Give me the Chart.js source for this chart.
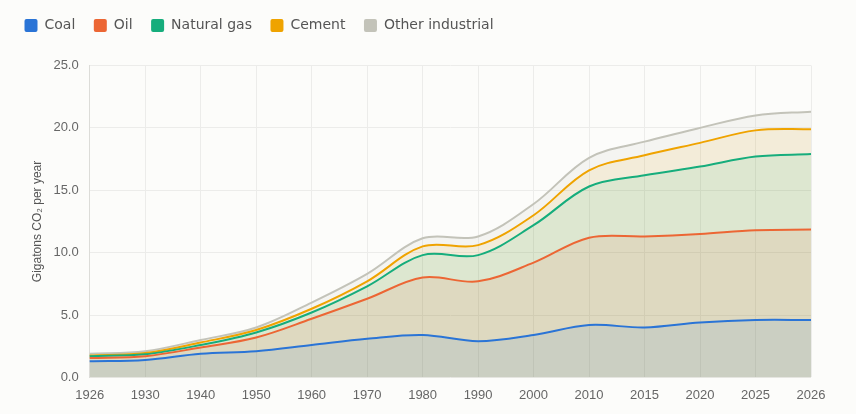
<!DOCTYPE html>
<html>
<head>
<meta charset="utf-8">
<script src="https://cdn.jsdelivr.net/npm/chart.js@4.4.1/dist/chart.umd.min.js"></script>
<style>
  html, body { margin: 0; padding: 0; background: #fcfcfa; }
  #wrap { width: 856px; height: 414px; }
</style>
</head>
<body>
<div id="wrap"><canvas id="c" width="856" height="414"></canvas></div>
<script>
const years = ["1926","1930","1940","1950","1960","1970","1980","1990","2000","2010","2015","2020","2025","2026"];
const coal = [1.3, 1.4, 1.9, 2.1, 2.6, 3.1, 3.4, 2.9, 3.4, 4.2, 4.0, 4.4, 4.6, 4.6];
const oil = [0.25, 0.3, 0.5, 1.1, 2.1, 3.2, 4.6, 4.8, 5.8, 7.0, 7.3, 7.1, 7.2, 7.25];
const naturalGas = [0.15, 0.15, 0.2, 0.4, 0.5, 1.0, 1.8, 2.1, 3.0, 4.1, 4.9, 5.4, 5.9, 6.05];
const cement = [0.05, 0.1, 0.2, 0.2, 0.3, 0.4, 0.7, 0.8, 0.8, 1.3, 1.6, 1.9, 2.1, 2.0];
const otherIndustrial = [0.15, 0.15, 0.2, 0.2, 0.5, 0.6, 0.65, 0.7, 0.9, 1.0, 1.1, 1.2, 1.2, 1.4];
const yTicks = [0, 5, 10, 15, 20, 25];

const seriesNames = ["Coal", "Oil", "Natural gas", "Cement", "Other industrial"];
const seriesData = [coal, oil, naturalGas, cement, otherIndustrial];
const lineColors = ["#2a74d6", "#ec6634", "#16ad7c", "#efa300", "#c3c3b9"];
const fillColors = ["rgba(42,116,214,0.10)", "rgba(236,102,52,0.10)", "rgba(22,173,124,0.10)", "rgba(239,163,0,0.10)", "rgba(190,190,178,0.12)"];

const FONT = "'Liberation Sans', Arial, sans-serif";
const LEGEND_FONT = "'DejaVu Sans', sans-serif";

const legendSpacer = {
  id: 'legendSpacer',
  beforeInit(chart) {
    const origFit = chart.legend.fit;
    chart.legend.fit = function () {
      origFit.bind(chart.legend)();
      this.height += 23;
    };
  }
};

new Chart(document.getElementById('c'), {
  type: 'line',
  data: {
    labels: years,
    datasets: seriesNames.map((name, i) => ({
      label: name,
      data: seriesData[i],
      borderColor: lineColors[i],
      backgroundColor: fillColors[i],
      borderWidth: 2,
      fill: 'origin',
      tension: 0.35,
      pointRadius: 0,
      pointHoverRadius: 0
    }))
  },
  options: {
    responsive: false,
    animation: false,
    layout: { padding: { left: 6, right: 45, top: 0, bottom: 1 } },
    plugins: {
      tooltip: { enabled: false },
      legend: {
        position: 'top',
        align: 'start',
        labels: {
          boxWidth: 13,
          boxHeight: 13,
          padding: 18.5,
          color: '#555',
          font: { family: LEGEND_FONT, size: 14 },
          generateLabels(chart) {
            return chart.data.datasets.map((ds, i) => ({
              text: ds.label,
              fillStyle: ds.borderColor,
              strokeStyle: ds.borderColor,
              lineWidth: 0,
              borderRadius: 2,
              fontColor: '#555',
              datasetIndex: i,
              hidden: false
            }));
          },
          useBorderRadius: true,
          borderRadius: 2
        }
      }
    },
    scales: {
      x: {
        type: 'category',
        grid: { color: '#ececea', drawTicks: false },
        border: { display: false },
        ticks: {
          color: '#666',
          font: { family: FONT, size: 13 },
          padding: 10,
          autoSkip: false,
          maxRotation: 0
        }
      },
      y: {
        stacked: true,
        min: 0,
        max: 25,
        afterBuildTicks(scale) { scale.ticks = yTicks.map(v => ({ value: v })); },
        grid: { color: '#ececea', drawTicks: false },
        border: { display: true, color: '#dcdcd8' },
        ticks: {
          color: '#666',
          font: { family: FONT, size: 13 },
          padding: 11,
          callback: (v) => Number(v).toFixed(1)
        },
        title: {
          display: true,
          text: 'Gigatons CO₂ per year',
          color: '#555',
          font: { family: FONT, size: 12 },
          padding: { top: 24, bottom: -2 }
        }
      }
    }
  },
  plugins: [legendSpacer]
});
</script>
</body>
</html>
